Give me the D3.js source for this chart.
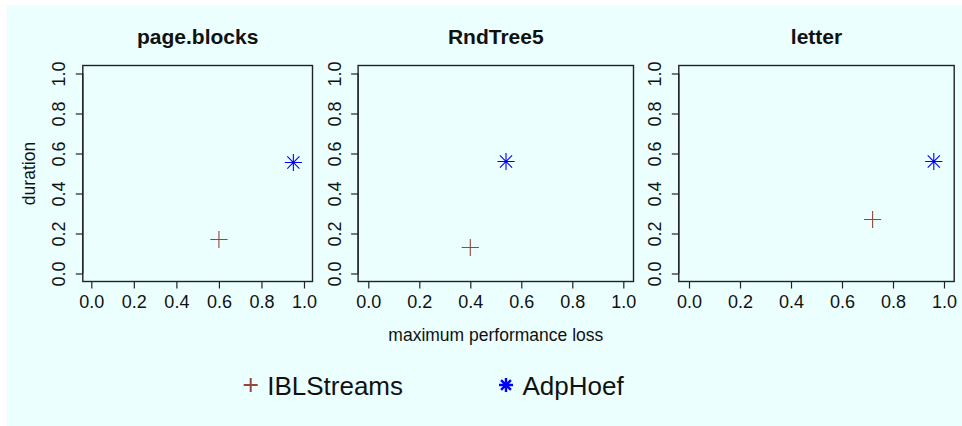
<!DOCTYPE html>
<html>
<head>
<meta charset="utf-8">
<script src="https://cdn.jsdelivr.net/npm/d3@7"></script>
<style>
  html, body { margin: 0; padding: 0; background: #ffffff; }
  svg { display: block; }
  text { font-family: "Liberation Sans", Arial, Helvetica, sans-serif; fill: #111; }
</style>
</head>
<body>
<svg id="chart" width="962" height="426"></svg>
<script>
// Datasets shown in the three panels
const datasets = ["page.blocks", "RndTree5", "letter"];
// IBLStreams: maximum performance loss and duration per dataset
const iblLoss = [0.60, 0.40, 0.72];
const iblDuration = [0.17, 0.13, 0.27];
// AdpHoef: maximum performance loss and duration per dataset
const adpLoss = [0.95, 0.54, 0.96];
const adpDuration = [0.555, 0.56, 0.56];
// Axis ticks shared by every panel
const tickValues = [0, 0.2, 0.4, 0.6, 0.8, 1.0];
const seriesNames = ["IBLStreams", "AdpHoef"];
const seriesColors = ["#96473d", "#0000ff"];

const svg = d3.select("#chart");
const W = 962, H = 426;

// page background
svg.append("rect").attr("x", 7).attr("y", 5).attr("width", W - 7).attr("height", H - 5)
  .attr("fill", "#ebffff");

// plot regions (left, right) for each panel; shared top/bottom
const frames = [[82.8, 312.5], [358.1, 633.5], [678.8, 954.2]];
const plotTop = 65.5, plotBottom = 281.5;
const pad = [-0.04, 1.04];
const y = d3.scaleLinear().domain(pad).range([plotBottom, plotTop]);

const fmt = d3.format(".1f");
const tickFont = 18;

function plus(g, cx, cy, r, color, w) {
  g.append("path")
    .attr("d", `M${cx - r},${cy}H${cx + r}M${cx},${cy - r}V${cy + r}`)
    .attr("stroke", color).attr("stroke-width", w).attr("fill", "none");
}
function asterisk(g, cx, cy, r, color, w) {
  const d = r * Math.SQRT1_2;
  g.append("path")
    .attr("d", `M${cx - r},${cy}H${cx + r}M${cx},${cy - r}V${cy + r}` +
               `M${cx - d},${cy - d}L${cx + d},${cy + d}M${cx - d},${cy + d}L${cx + d},${cy - d}`)
    .attr("stroke", color).attr("stroke-width", w).attr("fill", "none");
}

datasets.forEach((name, i) => {
  const [l, r] = frames[i];
  const x = d3.scaleLinear().domain(pad).range([l, r]);
  const g = svg.append("g");

  // x axis
  const xa = g.append("g").attr("transform", `translate(0,${plotBottom})`)
    .call(d3.axisBottom(x).tickValues(tickValues).tickFormat(fmt).tickSize(7).tickPadding(7));
  xa.select(".domain").attr("d", `M${x(0)},0H${x(1)}`);
  xa.selectAll("line, path").attr("stroke", "#222").attr("stroke-width", 1.2);
  xa.selectAll("text").attr("font-size", tickFont).attr("fill", "#111")
    .attr("font-family", "Liberation Sans, Arial, sans-serif");

  // y axis with rotated labels
  const ya = g.append("g").attr("transform", `translate(${l},0)`)
    .call(d3.axisLeft(y).tickValues(tickValues).tickFormat(fmt).tickSize(7));
  ya.select(".domain").attr("d", `M0,${y(0)}V${y(1)}`);
  ya.selectAll("line, path").attr("stroke", "#222").attr("stroke-width", 1.2);
  ya.selectAll("text")
    .attr("x", null).attr("dy", null)
    .attr("text-anchor", "middle")
    .attr("transform", "translate(-17.6,0) rotate(-90)")
    .attr("font-size", tickFont).attr("fill", "#111")
    .attr("font-family", "Liberation Sans, Arial, sans-serif");

  // frame
  g.append("rect").attr("x", l).attr("y", plotTop).attr("width", r - l).attr("height", plotBottom - plotTop)
    .attr("fill", "none").attr("stroke", "#222").attr("stroke-width", 1.4);

  // title
  g.append("text").attr("x", (l + r) / 2).attr("y", 43.5).attr("text-anchor", "middle")
    .attr("font-size", 21).attr("font-weight", "bold").text(name);

  // points
  plus(g, x(iblLoss[i]), y(iblDuration[i]), 8.6, seriesColors[0], 1.1);
  asterisk(g, x(adpLoss[i]), y(adpDuration[i]), 8.6, seriesColors[1], 1.1);
});

// axis titles
svg.append("text").attr("transform", "translate(35,173.5) rotate(-90)")
  .attr("text-anchor", "middle").attr("font-size", 17.5).text("duration");
svg.append("text").attr("x", (frames[1][0] + frames[1][1]) / 2).attr("y", 340.5)
  .attr("text-anchor", "middle").attr("font-size", 17.5).text("maximum performance loss");

// legend
const lg = svg.append("g");
const legendX = [250.7, 506];
seriesNames.forEach((s, i) => {
  if (i === 0) plus(lg, legendX[i], 385, 7, seriesColors[i], 2);
  else asterisk(lg, legendX[i], 385, 7, seriesColors[i], 2.4);
  lg.append("text").attr("x", legendX[i] + 16.5).attr("y", 394.5)
    .attr("font-size", 26).text(s);
});
</script>
</body>
</html>
